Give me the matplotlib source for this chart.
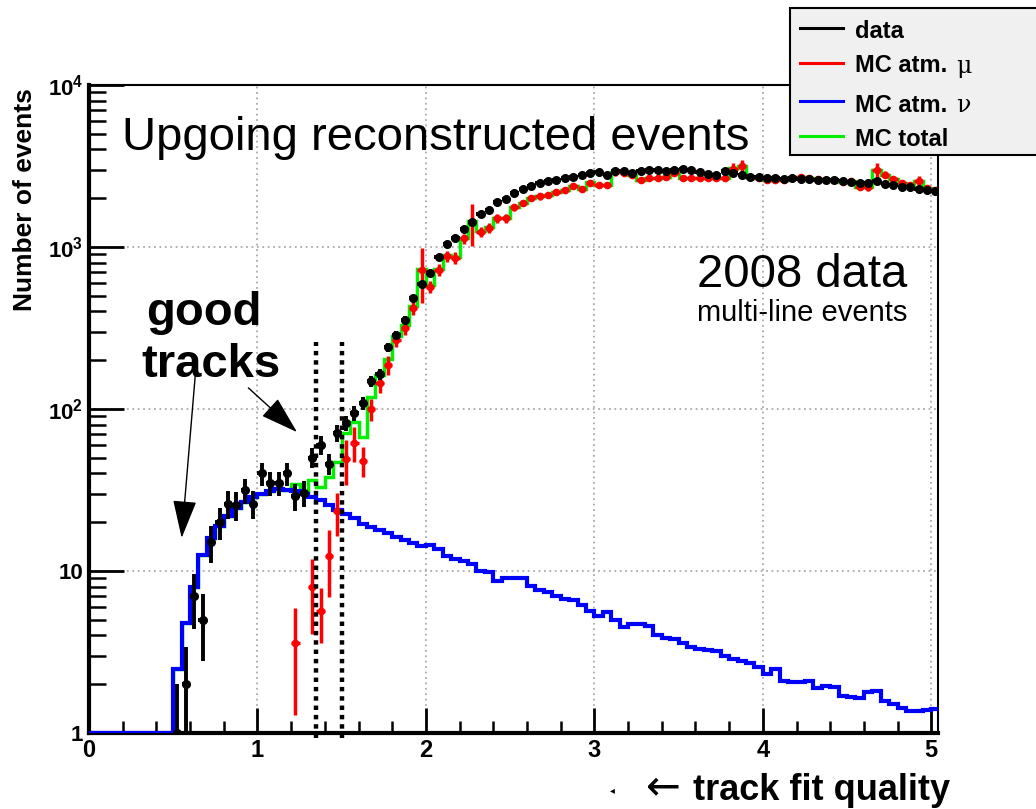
import numpy as np
import matplotlib
matplotlib.use("Agg")
import matplotlib.pyplot as plt
from matplotlib.patches import Rectangle
from matplotlib.lines import Line2D
from matplotlib.ticker import FixedLocator, MultipleLocator, LogLocator, NullFormatter

plt.rcParams['font.family'] = ['Liberation Sans', 'DejaVu Sans']
plt.rcParams['mathtext.fontset'] = 'custom'
plt.rcParams['mathtext.bf'] = 'Liberation Sans:bold'
plt.rcParams['mathtext.rm'] = 'Liberation Sans:bold'
plt.rcParams['mathtext.default'] = 'bf'

# binning: 0.05 wide bins from 0 to 5.05
edges = np.round(np.arange(0, 5.0501, 0.05), 3)

# MC atmospheric neutrinos (blue histogram)
mc_nu = [0, 0, 0, 0, 0, 0, 0, 0, 0, 0,
         2.5, 4.8, 8.0, 12.5, 16, 19, 22, 24.5, 26.6, 28.6,
         30, 31, 32, 31.5, 31, 30, 28.6, 27.5, 25.5, 23.7,
         22.5, 21.3, 19.5, 18.7, 17.8, 17.1, 16.2, 15.5, 14.9, 14.3,
         14.5, 13.6, 12.4, 11.9, 11.6, 11.0, 10.0, 9.9, 8.7, 9.0,
         9.1, 9.0, 8.1, 7.6, 7.4, 7.0, 6.7, 6.6, 6.2, 5.7,
         5.3, 5.6, 5.0, 4.5, 4.7, 4.7, 4.6, 4.0, 3.85, 3.8,
         3.6, 3.4, 3.3, 3.25, 3.2, 3.0, 2.85, 2.8, 2.7, 2.55,
         2.3, 2.5, 2.1, 2.05, 2.05, 2.1, 1.9, 1.95, 1.92, 1.7,
         1.66, 1.65, 1.78, 1.82, 1.57, 1.5, 1.42, 1.36, 1.36, 1.38,
         1.40]

# MC atmospheric muons (red points)
mc_mu = [0, 0, 0, 0, 0, 0, 0, 0, 0, 0,
         0, 0, 0, 0, 0, 0, 0, 0, 0, 0,
         0, 0, 0, 0, 3.6, 0, 8.0, 5.7, 12.4, 23.5,
         49, 62, 48, 100, 145, 187, 267, 316, 420, 720,
         570, 720, 880, 860, 1130, 1430, 1240, 1310, 1500, 1500,
         1760, 1870, 2000, 2050, 2100, 2170, 2250, 2380, 2280, 2500,
         2400, 2420, 2900, 2880, 2780, 2600, 2680, 2680, 2700, 2860,
         2680, 2650, 2650, 2680, 2680, 2650, 3050, 3150, 2700, 2650,
         2580, 2600, 2600, 2650, 2700, 2680, 2620, 2600, 2580, 2520,
         2560, 2350, 2330, 3000, 2800, 2620, 2480, 2420, 2560, 2300,
         2250]

mc_mu_err = [0, 0, 0, 0, 0, 0, 0, 0, 0, 0,
             0, 0, 0, 0, 0, 0, 0, 0, 0, 0,
             0, 0, 0, 0, 2.3, 0, 3.9, 2.1, 5.5, 7,
             15, 15, 10, 16, 20, 25, 25, 30, 40, 270,
             50, 60, 70, 70, 80, 420, 80, 90, 90, 90,
             90, 90, 90, 90, 90, 90, 90, 100, 100, 100,
             100, 100, 150, 100, 100, 100, 100, 100, 100, 100,
             100, 100, 100, 100, 100, 100, 250, 300, 100, 100,
             100, 100, 100, 100, 100, 100, 100, 100, 100, 100,
             100, 100, 100, 300, 150, 100, 100, 100, 200, 100,
             100]

# 2008 data (black points)
data = [0, 0, 0, 0, 0, 0, 0, 0, 0, 0,
        1, 2, 7, 5, 15, 20, 26, 25.5, 31.6, 26,
        40, 35, 35, 40, 29, 30.5, 50, 60, 46, 71,
        82, 94, 109, 148, 164, 240, 286, 355, 484, 590,
        690, 870, 1040, 1130, 1290, 1430, 1590, 1690, 1900, 1970,
        2150, 2280, 2370, 2480, 2550, 2600, 2650, 2700, 2770, 2860,
        2900, 2800, 2950, 2950, 2860, 2950, 3000, 3000, 2950, 3000,
        3030, 2990, 2900, 2820, 2800, 2950, 2860, 2780, 2700, 2700,
        2680, 2650, 2640, 2680, 2640, 2620, 2600, 2580, 2600, 2560,
        2520, 2500, 2480, 2560, 2440, 2400, 2350, 2330, 2280, 2240,
        2230]

cut_lines = [1.35, 1.50]

nu = np.array(mc_nu, float)
mu = np.array(mc_mu, float)
mu_err = np.array(mc_mu_err, float)
dat = np.array(data, float)
total = nu + mu
centers = 0.5 * (edges[:-1] + edges[1:])

W, H = 1036, 809
fig = plt.figure(figsize=(W / 100, H / 100), dpi=100)
ax = fig.add_axes([89 / W, 1 - 733 / H, (938 - 89) / W, (733 - 85) / H])
ax.set_yscale('log')

# histograms
ax.stairs(np.maximum(total, 1), edges, color='#00ee00', lw=2.5, zorder=2)
ax.stairs(np.maximum(nu, 1), edges, color='#0000ff', lw=3, zorder=3)

# MC muons
m = mu > 0
lo = mu[m] - np.maximum(mu[m] - mu_err[m], 0.8)
ax.errorbar(centers[m], mu[m], xerr=0.025, yerr=[lo, mu_err[m]], fmt='o',
            color='#ff0000', ms=4.5, elinewidth=2.5, capsize=0, zorder=4)

# data
d = dat > 0
derr = np.sqrt(dat[d])
dlo = dat[d] - np.maximum(dat[d] - derr, 0.8)
ax.errorbar(centers[d], dat[d], xerr=0.025, yerr=[dlo, derr], fmt='o',
            color='black', ms=5.5, elinewidth=2.8, capsize=0, zorder=5)

# cut lines
for xc in cut_lines:
    ax.plot([xc, xc], [0.93, 260], color='black', lw=3.2, ls=(0, (1, 1.1)),
            clip_on=False, zorder=6)

ax.set_xlim(0, 5.04)
ax.set_ylim(1, 1e4)

ax.xaxis.set_major_locator(FixedLocator([0, 1, 2, 3, 4, 5]))
ax.xaxis.set_minor_locator(MultipleLocator(0.2))
ax.yaxis.set_major_locator(FixedLocator([1, 10, 100, 1000, 10000]))
ax.yaxis.set_minor_locator(LogLocator(base=10, subs=np.arange(2, 10)))
ax.yaxis.set_minor_formatter(NullFormatter())
ax.set_xticklabels(['0', '1', '2', '3', '4', '5'], fontsize=17, fontweight='bold')
ax.set_yticklabels(['1', '10', r'$10^{2}$', r'$10^{3}$', r'$10^{4}$'],
                   fontsize=16, fontweight='bold')

ax.tick_params(axis='both', which='both', direction='in', top=False, right=False, pad=4)
ax.tick_params(axis='x', which='major', length=18, width=2)
ax.tick_params(axis='x', which='minor', length=9, width=1.8)
ax.tick_params(axis='y', which='major', length=25, width=2)
ax.tick_params(axis='y', which='minor', length=12, width=1.8)

ax.grid(True, which='major', ls=(0, (1, 2)), color='#aaaaaa', lw=1.3)
for s in ['left', 'bottom']:
    ax.spines[s].set_linewidth(3)
for s in ['top', 'right']:
    ax.spines[s].set_linewidth(1.5)

# annotations
ax.text(0.039, 0.8997, 'Upgoing reconstructed events', transform=ax.transAxes,
        fontsize=34, va='baseline', ha='left', zorder=7)
ax.text(0.716, 0.688, '2008 data', transform=ax.transAxes,
        fontsize=34, va='baseline', ha='left')
ax.text(0.716, 0.636, 'multi-line events', transform=ax.transAxes,
        fontsize=21, va='baseline', ha='left')

fig.text(204 / W, 1 - 325 / H, 'good', fontsize=34, fontweight='bold',
         ha='center', va='baseline')
fig.text(211 / W, 1 - 377 / H, 'tracks', fontsize=34, fontweight='bold',
         ha='center', va='baseline')

arr = dict(arrowstyle='-|>,head_length=2.4,head_width=0.75', lw=1, color='black',
           mutation_scale=10, shrinkA=0, shrinkB=0)
ax.annotate('', xy=(0.55, 16), xytext=(0.632, 167), arrowprops=arr, zorder=7)
ax.annotate('', xy=(1.235, 72), xytext=(0.946, 135), arrowprops=arr, zorder=7)

fig.text(25 / W, 1 - 88 / H, 'Number of events', rotation=90, fontsize=19,
         fontweight='bold', ha='center', va='top')

fig.text(612 / W, 1 - 793 / H, '\u25c2', fontsize=7, ha='center', va='baseline',
         family='DejaVu Sans')
fig.text(663 / W, 1 - 799 / H, '\u2190', fontsize=30, ha='center', va='baseline',
         family='DejaVu Sans')
fig.text(693 / W, 1 - 800 / H, 'track fit quality', fontsize=26, fontweight='bold',
         ha='left', va='baseline')

# legend box
fig.patches.append(Rectangle((790 / W, 1 - 155 / H), 260 / W, 147 / H,
                             transform=fig.transFigure, facecolor='#f0f0f0',
                             edgecolor='black', lw=1.5, zorder=10))
leg = [('data', 'black', 28, 32, ''),
       ('MC atm.', '#ff0000', 63, 66, '\u03bc'),
       ('MC atm.', '#0000ff', 101, 105, '\u03bd'),
       ('MC total', '#00ee00', 136, 140, '')]
for lab, col, ly, ty, sym in leg:
    fig.lines.append(Line2D([800 / W, 843 / W], [1 - ly / H, 1 - ly / H],
                            transform=fig.transFigure, color=col, lw=2.2, zorder=11))
    fig.text(855 / W, 1 - ty / H, lab, fontsize=17, fontweight='bold',
             ha='left', va='center', zorder=11)
    if sym:
        fig.text(956 / W, 1 - (ty + 1) / H, sym, fontsize=17, family='DejaVu Serif',
                 ha='left', va='center', zorder=11)

fig.savefig('out.png', dpi=100)
